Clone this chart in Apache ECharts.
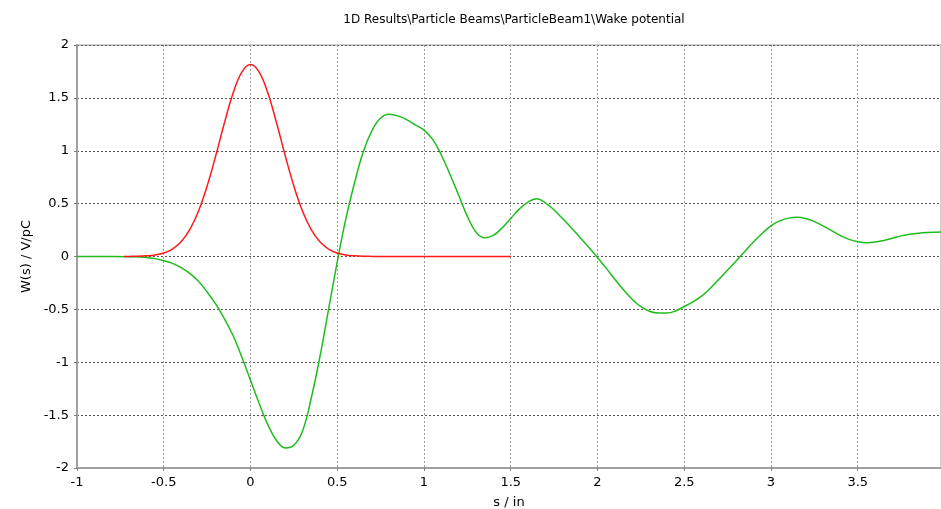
<!DOCTYPE html>
<html>
<head>
<meta charset="utf-8">
<script src="https://cdn.jsdelivr.net/npm/echarts@6/dist/echarts.min.js"></script>
<style>html,body{margin:0;padding:0;background:#fff}#c{width:941px;height:509px}</style>
</head>
<body>
<div id="c"></div>
<script>
var titleText = '1D Results\\Particle Beams\\ParticleBeam1\\Wake potential';
var xName = 's / in';
var yName = 'W(s) / V/pC';

var greenS = [-1.0,-0.8,-0.7,-0.6,-0.55,-0.5,-0.45,-0.4,-0.35,-0.3,-0.25,-0.2,-0.15,-0.1,-0.05,0.0,0.05,0.1,0.15,0.2,0.25,0.3,0.35,0.4,0.45,0.5,0.55,0.6,0.65,0.7,0.75,0.8,0.85,0.9,0.95,1.0,1.05,1.1,1.15,1.2,1.25,1.3,1.35,1.4,1.45,1.5,1.55,1.6,1.65,1.7,1.75,1.8,1.85,1.9,1.95,2.0,2.05,2.1,2.15,2.2,2.25,2.3,2.35,2.4,2.45,2.5,2.55,2.6,2.65,2.7,2.75,2.8,2.85,2.9,2.95,3.0,3.05,3.1,3.15,3.2,3.25,3.3,3.35,3.4,3.45,3.5,3.55,3.6,3.65,3.7,3.75,3.8,3.85,3.9,3.95,3.98];
var greenW = [0,0,-0.002,-0.009,-0.02,-0.04,-0.065,-0.105,-0.16,-0.235,-0.335,-0.45,-0.59,-0.75,-0.95,-1.17,-1.39,-1.59,-1.74,-1.81,-1.785,-1.65,-1.34,-0.95,-0.5,-0.05,0.36,0.70,0.99,1.19,1.31,1.345,1.33,1.295,1.245,1.195,1.107,0.96,0.775,0.58,0.38,0.23,0.178,0.2,0.27,0.36,0.45,0.515,0.545,0.508,0.44,0.357,0.27,0.178,0.088,-0.01,-0.11,-0.215,-0.315,-0.405,-0.475,-0.518,-0.535,-0.535,-0.515,-0.473,-0.43,-0.375,-0.30,-0.215,-0.128,-0.04,0.05,0.14,0.22,0.29,0.337,0.363,0.372,0.36,0.33,0.29,0.245,0.198,0.162,0.14,0.13,0.136,0.152,0.173,0.195,0.211,0.221,0.227,0.23,0.231];

var redS = [-0.73,-0.7,-0.65,-0.6,-0.55,-0.5,-0.45,-0.4,-0.35,-0.3,-0.25,-0.2,-0.15,-0.1,-0.05,0.0,0.05,0.1,0.15,0.2,0.25,0.3,0.35,0.4,0.45,0.5,0.55,0.6,0.65,0.7,0.75,0.8,1.0,1.5];
var redW = [0,0.001,0.002,0.006,0.014,0.033,0.07,0.139,0.254,0.428,0.666,0.955,1.265,1.546,1.744,1.815,1.744,1.546,1.265,0.955,0.666,0.428,0.254,0.139,0.07,0.033,0.014,0.006,0.002,0.001,0,0,0,0];

function pairs(xs, ys){ return xs.map(function(x,i){ return [x, ys[i]]; }); }

var chart = echarts.init(document.getElementById('c'), null, {renderer:'canvas'});
var font = 'DejaVu Sans';
chart.setOption({
  animation: false,
  backgroundColor: '#ffffff',
  title: {
    text: titleText, left: 509, top: 9, textAlign: 'center',
    textStyle: {fontFamily: font, fontSize: 12, fontWeight: 'normal', color: '#000'}
  },
  grid: {left: 77, right: 0, top: 45, bottom: 41, containLabel: false, outerBoundsMode: 'none',
         show: true, borderColor: '#a0a0a0', borderWidth: 1},
  xAxis: {
    type: 'value', min: -1, max: 3.98, interval: 0.5,
    name: xName, nameLocation: 'middle', nameGap: 28,
    nameTextStyle: {fontFamily: font, fontSize: 13, color: '#000'},
    axisLine: {show: true, onZero: false, lineStyle: {color: '#a0a0a0', width: 2}},
    axisTick: {show: true, length: 3, lineStyle: {color: '#808080'}},
    axisLabel: {fontFamily: font, fontSize: 13, color: '#000', margin: 8, showMaxLabel: false},
    splitLine: {show: true, lineStyle: {color: '#999', type: [2, 2], width: 1}}
  },
  yAxis: {
    type: 'value', min: -2, max: 2, interval: 0.5,
    name: yName, nameLocation: 'middle', nameGap: 34, nameRotate: 90,
    nameTextStyle: {fontFamily: font, fontSize: 13, color: '#000'},
    axisLine: {show: true, onZero: false, lineStyle: {color: '#a0a0a0', width: 2}},
    axisTick: {show: true, length: 3, lineStyle: {color: '#808080'}},
    axisLabel: {fontFamily: font, fontSize: 13, color: '#000', margin: 8},
    splitLine: {show: true, lineStyle: {color: '#555', type: [2, 2], width: 1}}
  },
  series: [
    {type: 'line', data: pairs(greenS, greenW), showSymbol: false, smooth: 0.4,
     lineStyle: {color: '#1ebd1e', width: 1.5}, itemStyle: {color: '#1ebd1e'}},
    {type: 'line', data: pairs(redS, redW), showSymbol: false, smooth: 0.4,
     lineStyle: {color: '#ff1a1a', width: 1.5}, itemStyle: {color: '#ff1a1a'}}
  ]
});
</script>
</body>
</html>
